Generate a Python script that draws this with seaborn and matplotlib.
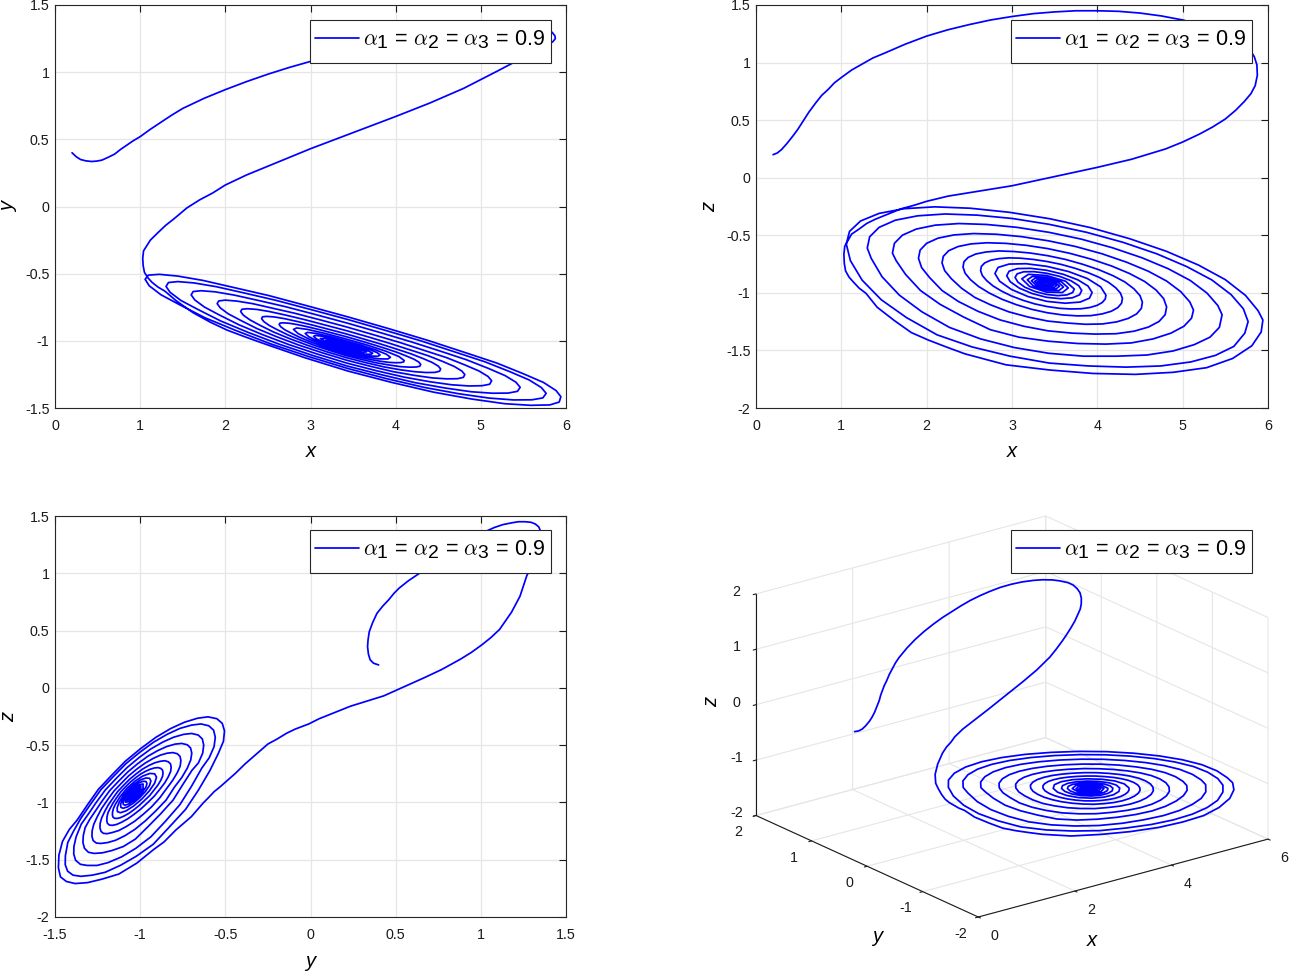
import numpy as np
import pandas as pd
import matplotlib
matplotlib.use("Agg")
import matplotlib.pyplot as plt
import matplotlib._mathtext as mathtext_core
import seaborn as sns
from matplotlib.transforms import Affine2D
from mpl_toolkits.mplot3d import proj3d

# Trajectory: lead-in curve first
x_lead = [0.20, 0.25, 0.30, 0.36, 0.43, 0.49, 0.55, 0.62, 0.70, 0.77, 0.85, 0.92, 1.00, 1.12, 1.25, 1.37, 1.50, 1.75,
          2.00, 2.25, 2.50, 2.75, 3.00, 3.25, 3.50, 3.75, 4.00, 4.25, 4.50, 4.75, 5.00, 5.20, 5.40, 5.55, 5.70, 5.78,
          5.84, 5.87, 5.875, 5.85, 5.80, 5.72, 5.62, 5.50, 5.35, 5.20, 5.00, 4.80, 4.60, 4.40, 4.20, 4.00, 3.75, 3.50,
          3.25, 3.00, 2.75, 2.50, 2.25, 2.00, 1.85, 1.70, 1.55, 1.40, 1.30, 1.20, 1.12, 1.07, 1.04, 1.03, 1.035, 1.05,
          1.09, 1.14, 1.21, 1.29, 1.42, 1.62, 1.82, 2.02, 2.23, 2.45, 2.93, 3.44, 3.95, 4.445, 4.89, 5.28, 5.585, 5.81,
          5.92, 5.94]
y_lead = [0.40, 0.37, 0.35, 0.34, 0.335, 0.338, 0.345, 0.365, 0.39, 0.425, 0.46, 0.49, 0.52, 0.575, 0.63, 0.68, 0.73, 0.805,
          0.87, 0.93, 0.985, 1.035, 1.08, 1.13, 1.18, 1.22, 1.26, 1.295, 1.32, 1.34, 1.35, 1.36, 1.36, 1.355, 1.34, 1.32,
          1.295, 1.27, 1.25, 1.23, 1.205, 1.18, 1.145, 1.11, 1.06, 1.01, 0.945, 0.88, 0.825, 0.77, 0.72, 0.67, 0.61, 0.55,
          0.49, 0.43, 0.365, 0.30, 0.235, 0.16, 0.10, 0.05, -0.01, -0.09, -0.14, -0.20, -0.25, -0.30, -0.33, -0.385, -0.44, -0.49,
          -0.53, -0.565, -0.60, -0.63, -0.70, -0.79, -0.86, -0.92, -0.97, -1.02, -1.125, -1.225, -1.309, -1.382, -1.433, -1.468, -1.48, -1.477,
          -1.456, -1.416]
z_lead = [0.20, 0.215, 0.245, 0.295, 0.36, 0.42, 0.49, 0.57, 0.65, 0.715, 0.77, 0.825, 0.87, 0.935, 0.99, 1.04, 1.08, 1.16,
          1.23, 1.285, 1.33, 1.37, 1.40, 1.425, 1.44, 1.45, 1.45, 1.445, 1.43, 1.405, 1.37, 1.33, 1.28, 1.23, 1.17, 1.12,
          1.05, 0.98, 0.89, 0.80, 0.73, 0.66, 0.585, 0.51, 0.44, 0.38, 0.31, 0.25, 0.205, 0.16, 0.125, 0.09, 0.05, 0.01,
          -0.03, -0.07, -0.10, -0.13, -0.16, -0.205, -0.24, -0.27, -0.315, -0.36, -0.396, -0.45, -0.49, -0.555, -0.595, -0.665, -0.745, -0.81,
          -0.863, -0.905, -0.96, -1.005, -1.125, -1.24, -1.345, -1.41, -1.47, -1.53, -1.625, -1.67, -1.70, -1.708, -1.69, -1.65, -1.57, -1.46,
          -1.34, -1.236]

# Spiral towards the equilibrium
x_spiral = [5.736, 5.186, 4.38, 3.44, 2.51, 1.735, 1.225, 1.058,
            1.244, 1.764, 2.534, 3.438, 4.338, 5.095, 5.6, 5.767,
            5.567, 5.048, 4.30, 3.436, 2.591, 1.894, 1.443, 1.304,
            1.477, 1.945, 2.632, 3.433, 4.225, 4.886, 5.32, 5.462,
            5.285, 4.832, 4.18, 3.431, 2.701, 2.101, 1.716, 1.599,
            1.753, 2.158, 2.746, 3.428, 4.098, 4.654, 5.015, 5.127,
            4.977, 4.597, 4.052, 3.426, 2.817, 2.319, 1.999, 1.904,
            2.034, 2.372, 2.86, 3.423, 3.975, 4.43, 4.724, 4.812,
            4.689, 4.377, 3.932, 3.421, 2.924, 2.518, 2.258, 2.18,
            2.289, 2.565, 2.963, 3.419, 3.863, 4.227, 4.46, 4.528,
            4.429, 4.181, 3.825, 3.417, 3.02, 2.695, 2.487, 2.426,
            2.514, 2.735, 3.052, 3.415, 3.767, 4.056, 4.24, 4.294,
            4.216, 4.018, 3.736, 3.413, 3.10, 2.844, 2.68, 2.632,
            2.702, 2.876, 3.126, 3.412, 3.689, 3.915, 4.059, 4.101,
            3.884, 3.41, 2.965, 2.80, 2.992, 3.409, 3.798, 3.939,
            3.772, 3.408, 3.065, 2.938, 3.086, 3.407, 3.707, 3.817,
            3.689, 3.406, 3.137, 3.036, 3.151, 3.406, 3.644, 3.73,
            3.628, 3.405, 3.193, 3.115, 3.206, 3.404, 3.591, 3.659,
            3.579, 3.404, 3.239, 3.179, 3.249, 3.403, 3.549, 3.603,
            3.54, 3.403, 3.275, 3.228, 3.283, 3.403, 3.516, 3.557,
            3.508, 3.402, 3.303, 3.267, 3.309, 3.402, 3.49, 3.522,
            3.484, 3.402, 3.325, 3.297, 3.33, 3.402, 3.468, 3.491,
            3.463, 3.401, 3.343, 3.321, 3.346, 3.401, 3.452, 3.471,
            3.401, 3.341, 3.401, 3.451, 3.401, 3.361, 3.401, 3.43]
y_spiral = [-1.31, -1.165, -0.997, -0.822, -0.663, -0.55, -0.505, -0.542,
            -0.657, -0.829, -1.023, -1.206, -1.347, -1.426, -1.439, -1.391,
            -1.291, -1.156, -1.001, -0.841, -0.698, -0.597, -0.559, -0.595,
            -0.699, -0.852, -1.025, -1.188, -1.311, -1.379, -1.389, -1.346,
            -1.259, -1.141, -1.007, -0.868, -0.745, -0.659, -0.627, -0.658,
            -0.748, -0.88, -1.028, -1.166, -1.27, -1.327, -1.334, -1.297,
            -1.224, -1.125, -1.013, -0.897, -0.795, -0.723, -0.697, -0.723,
            -0.799, -0.909, -1.031, -1.144, -1.23, -1.276, -1.282, -1.251,
            -1.191, -1.11, -1.019, -0.924, -0.841, -0.782, -0.761, -0.782,
            -0.844, -0.934, -1.033, -1.125, -1.194, -1.23, -1.235, -1.209,
            -1.161, -1.097, -1.024, -0.948, -0.882, -0.835, -0.818, -0.835,
            -0.885, -0.956, -1.035, -1.109, -1.163, -1.192, -1.195, -1.175,
            -1.137, -1.086, -1.028, -0.968, -0.916, -0.879, -0.866, -0.879,
            -0.919, -0.975, -1.037, -1.095, -1.137, -1.16, -1.162, -1.147,
            -1.077, -0.985, -0.915, -0.915, -0.99, -1.083, -1.134, -1.123,
            -1.069, -0.999, -0.945, -0.945, -1.003, -1.074, -1.113, -1.105,
            -1.064, -1.009, -0.966, -0.966, -1.011, -1.068, -1.099, -1.092,
            -1.059, -1.016, -0.983, -0.983, -1.018, -1.063, -1.087, -1.082,
            -1.056, -1.022, -0.996, -0.997, -1.024, -1.059, -1.078, -1.074,
            -1.054, -1.027, -1.007, -1.007, -1.029, -1.055, -1.07, -1.067,
            -1.051, -1.031, -1.015, -1.016, -1.032, -1.053, -1.064, -1.062,
            -1.05, -1.034, -1.022, -1.022, -1.035, -1.051, -1.059, -1.057,
            -1.048, -1.036, -1.027, -1.027, -1.037, -1.049, -1.056, -1.054,
            -1.038, -1.031, -1.048, -1.051, -1.04, -1.036, -1.046, -1.048]
z_spiral = [-1.022, -0.759, -0.53, -0.356, -0.265, -0.269, -0.376, -0.575,
            -0.89, -1.215, -1.47, -1.61, -1.645, -1.60, -1.465, -1.25,
            -1.015, -0.772, -0.561, -0.405, -0.325, -0.331, -0.431, -0.611,
            -0.86, -1.165, -1.40, -1.525, -1.55, -1.505, -1.385, -1.19,
            -1.002, -0.791, -0.609, -0.474, -0.406, -0.412, -0.499, -0.655,
            -0.84, -1.10, -1.32, -1.42, -1.445, -1.40, -1.29, -1.15,
            -0.989, -0.812, -0.66, -0.548, -0.491, -0.497, -0.57, -0.70,
            -0.867, -1.075, -1.235, -1.33, -1.358, -1.333, -1.248, -1.122,
            -0.976, -0.832, -0.708, -0.616, -0.57, -0.575, -0.634, -0.74,
            -0.877, -1.04, -1.165, -1.245, -1.273, -1.252, -1.183, -1.081,
            -0.965, -0.85, -0.751, -0.677, -0.641, -0.645, -0.692, -0.776,
            -0.886, -1.002, -1.103, -1.173, -1.20, -1.183, -1.128, -1.048,
            -0.956, -0.864, -0.786, -0.728, -0.699, -0.703, -0.74, -0.807,
            -0.893, -0.984, -1.064, -1.119, -1.14, -1.127, -1.083, -1.02,
            -0.876, -0.77, -0.75, -0.832, -0.97, -1.074, -1.08, -0.997,
            -0.887, -0.804, -0.789, -0.852, -0.959, -1.039, -1.043, -0.979,
            -0.894, -0.83, -0.817, -0.866, -0.951, -1.014, -1.018, -0.967,
            -0.899, -0.849, -0.839, -0.878, -0.944, -0.994, -0.997, -0.957,
            -0.904, -0.865, -0.857, -0.887, -0.939, -0.978, -0.98, -0.949,
            -0.907, -0.877, -0.871, -0.895, -0.934, -0.965, -0.966, -0.942,
            -0.91, -0.887, -0.882, -0.90, -0.931, -0.955, -0.956, -0.937,
            -0.912, -0.894, -0.891, -0.905, -0.929, -0.947, -0.947, -0.933,
            -0.914, -0.90, -0.898, -0.908, -0.927, -0.94, -0.941, -0.93,
            -0.905, -0.911, -0.935, -0.927, -0.91, -0.914, -0.93, -0.924]

# Extra readings, each one lies just before the same position in the spiral lists
x_extra = [5.883, 5.499, 4.809, 3.917, 2.965, 2.094, 1.442, 1.096,
           1.106, 1.468, 2.123, 2.978, 3.896, 4.742, 5.384, 5.728,
           5.711, 5.342, 4.697, 3.873, 3.003, 2.216, 1.633, 1.332,
           1.35, 1.68, 2.267, 3.027, 3.838, 4.579, 5.135, 5.43,
           5.412, 5.088, 4.526, 3.81, 3.057, 2.378, 1.878, 1.622,
           1.642, 1.928, 2.433, 3.082, 3.771, 4.396, 4.862, 5.104,
           5.084, 4.811, 4.34, 3.742, 3.114, 2.549, 2.133, 1.923,
           1.941, 2.181, 2.601, 3.138, 3.706, 4.219, 4.599, 4.795,
           4.777, 4.554, 4.168, 3.679, 3.166, 2.705, 2.367, 2.195,
           2.211, 2.409, 2.752, 3.188, 3.646, 4.059, 4.362, 4.516,
           4.50, 4.322, 4.014, 3.623, 3.213, 2.845, 2.574, 2.437,
           2.451, 2.609, 2.884, 3.231, 3.596, 3.923, 4.163, 4.284,
           4.271, 4.13, 3.886, 3.577, 3.253, 2.962, 2.749, 2.641,
           2.652, 2.778, 2.994, 3.267, 3.554, 3.811, 3.999, 4.093,
           4.039, 3.663, 3.165, 2.837, 2.855, 3.187, 3.623, 3.908,
           3.891, 3.602, 3.219, 2.966, 2.98, 3.236, 3.573, 3.792,
           3.781, 3.558, 3.259, 3.06, 3.069, 3.27, 3.536, 3.711]
y_extra = [-1.37, -1.245, -1.086, -0.909, -0.74, -0.602, -0.518, -0.511,
           -0.59, -0.733, -0.923, -1.117, -1.282, -1.394, -1.44, -1.425,
           -1.348, -1.23, -1.083, -0.921, -0.767, -0.643, -0.569, -0.566,
           -0.638, -0.767, -0.937, -1.109, -1.253, -1.351, -1.39, -1.376,
           -1.308, -1.205, -1.077, -0.937, -0.804, -0.698, -0.635, -0.633,
           -0.696, -0.807, -0.953, -1.099, -1.222, -1.304, -1.336, -1.323,
           -1.265, -1.179, -1.072, -0.955, -0.844, -0.756, -0.704, -0.703,
           -0.755, -0.848, -0.969, -1.089, -1.19, -1.257, -1.283, -1.272,
           -1.225, -1.154, -1.067, -0.971, -0.881, -0.808, -0.766, -0.765,
           -0.809, -0.885, -0.983, -1.081, -1.162, -1.216, -1.236, -1.226,
           -1.188, -1.132, -1.062, -0.986, -0.914, -0.856, -0.822, -0.821,
           -0.856, -0.917, -0.995, -1.073, -1.138, -1.18, -1.196, -1.189,
           -1.158, -1.114, -1.058, -0.998, -0.941, -0.895, -0.869, -0.868,
           -0.896, -0.944, -1.006, -1.067, -1.118, -1.151, -1.163, -1.157,
           -1.117, -1.031, -0.944, -0.904, -0.946, -1.039, -1.116, -1.135,
           -1.10, -1.034, -0.967, -0.937, -0.969, -1.04, -1.10, -1.115,
           -1.087, -1.036, -0.984, -0.96, -0.985, -1.041, -1.088, -1.10]
z_extra = [-1.154, -0.885, -0.639, -0.433, -0.30, -0.253, -0.31, -0.466,
           -0.72, -1.06, -1.365, -1.55, -1.635, -1.635, -1.543, -1.35,
           -1.138, -0.888, -0.661, -0.474, -0.354, -0.315, -0.369, -0.513,
           -0.70, -1.02, -1.30, -1.475, -1.55, -1.54, -1.45, -1.30,
           -1.11, -0.892, -0.696, -0.533, -0.431, -0.398, -0.446, -0.57,
           -0.72, -0.98, -1.21, -1.385, -1.44, -1.435, -1.35, -1.22,
           -1.079, -0.897, -0.733, -0.597, -0.512, -0.485, -0.525, -0.629,
           -0.781, -0.98, -1.16, -1.29, -1.35, -1.355, -1.297, -1.189,
           -1.05, -0.901, -0.767, -0.657, -0.587, -0.565, -0.598, -0.683,
           -0.807, -0.96, -1.105, -1.21, -1.262, -1.27, -1.222, -1.135,
           -1.024, -0.905, -0.798, -0.709, -0.654, -0.636, -0.663, -0.73,
           -0.83, -0.945, -1.056, -1.143, -1.192, -1.198, -1.16, -1.09,
           -1.002, -0.908, -0.823, -0.753, -0.71, -0.696, -0.717, -0.77,
           -0.849, -0.94, -1.027, -1.096, -1.134, -1.138, -1.108, -1.053,
           -0.948, -0.815, -0.747, -0.779, -0.899, -1.032, -1.09, -1.046,
           -0.941, -0.839, -0.787, -0.812, -0.904, -1.006, -1.051, -1.017,
           -0.937, -0.857, -0.816, -0.835, -0.907, -0.988, -1.024, -0.997]

x_ticks = [0, 1, 2, 3, 4, 5, 6]
half_ticks = [-1.5, -1, -0.5, 0, 0.5, 1, 1.5]
z_ticks = [-2, -1.5, -1, -0.5, 0, 0.5, 1, 1.5]
half_labels = ["-1.5", "-1", "-0.5", "0", "0.5", "1", "1.5"]
z_labels = ["-2", "-1.5", "-1", "-0.5", "0", "0.5", "1", "1.5"]
x_ticks_3d = [0, 2, 4, 6]
yz_ticks_3d = [-2, -1, 0, 1, 2]

legend_text = r"$\alpha_{\mathregular{1}}$ = $\alpha_{\mathregular{2}}$ = $\alpha_{\mathregular{3}}$ = 0.9"

W, H = 1289, 973

sns.set_style("whitegrid")
plt.rcParams["font.family"] = ["Liberation Sans", "DejaVu Sans"]
plt.rcParams["mathtext.fontset"] = "cm"
plt.rcParams["axes.unicode_minus"] = False
plt.rcParams["grid.color"] = "#e6e6e6"
plt.rcParams["grid.linewidth"] = 0.9
plt.rcParams["axes.edgecolor"] = "#262626"
plt.rcParams["axes.linewidth"] = 0.8
plt.rcParams["axes.labelcolor"] = "black"
plt.rcParams["text.color"] = "black"
plt.rcParams["xtick.color"] = "#1a1a1a"
plt.rcParams["ytick.color"] = "#1a1a1a"
mathtext_core.SHRINK_FACTOR = 0.9


def merge_readings(main, extra):
    merged = []
    for i, value in enumerate(main):
        if i < len(extra):
            merged.append(extra[i])
        merged.append(value)
    return merged


path = pd.DataFrame({
    "x": x_lead + merge_readings(x_spiral, x_extra),
    "y": y_lead + merge_readings(y_spiral, y_extra),
    "z": z_lead + merge_readings(z_spiral, z_extra),
})

fig = plt.figure(figsize=(W / 100, H / 100), dpi=100)


def px_rect(left, top, right, bottom):
    return [left / W, 1 - bottom / H, (right - left) / W, (bottom - top) / H]


def add_legend(ax, handles, left, top):
    box = ax.get_position()
    text_top = top + 4
    anchor = ((left / W - box.x0) / box.width, ((1 - text_top / H) - box.y0) / box.height)
    leg = ax.legend(handles=handles, labels=[legend_text], loc="upper left", bbox_to_anchor=anchor,
                    borderaxespad=0, fontsize=15.5, handlelength=2.05, handletextpad=0.2,
                    borderpad=0.22, fancybox=False, framealpha=1, edgecolor="#262626", facecolor="white")
    frame = leg.get_frame()
    frame.set_linewidth(0.8)
    # legend pad is one number, but this frame has more room above and below than at the sides
    set_frame = frame.set_bounds
    frame.set_bounds = lambda *bounds: set_frame(left, H - top - 43, 241, 43)


def flat_panel(rect, xcol, ycol, xlim, ylim, xticks, xlabels, yticks, ylabels, xname_y, legend_pos):
    ax = fig.add_axes(px_rect(*rect))
    sns.lineplot(data=path, x=xcol, y=ycol, sort=False, estimator=None, color="blue",
                 linewidth=1.25, ax=ax)
    ax.set_xlim(xlim)
    ax.set_ylim(ylim)
    ax.set_xticks(xticks, labels=xlabels)
    ax.set_yticks(yticks, labels=ylabels)
    ax.tick_params(direction="in", top=True, right=True, length=5, width=0.8, labelsize=10.3)
    ax.tick_params(axis="x", pad=8)
    ax.tick_params(axis="y", pad=4)
    ax.set_axisbelow(True)
    ax.set_xlabel(xcol, fontsize=14.5, style="italic")
    ax.set_ylabel(ycol, fontsize=14.5, style="italic")
    ax.xaxis.set_label_coords(0.5, xname_y)
    ax.yaxis.set_label_coords(-0.09, 0.5)
    ax.xaxis.label.set_va("center")
    ax.yaxis.label.set_va("center")
    add_legend(ax, ax.get_lines()[:1], *legend_pos)
    return ax


# =====================================
# Flat views
# =====================================

x_labels = [str(v) for v in x_ticks]
flat_panel((55, 5, 566, 408), "x", "y", (0, 6), (-1.5, 1.5), x_ticks, x_labels,
           half_ticks, half_labels, -0.107, (310, 20))
flat_panel((756, 5, 1268, 408), "x", "z", (0, 6), (-2, 1.5), x_ticks, x_labels,
           z_ticks, z_labels, -0.107, (1011, 20))
flat_panel((55, 516, 566, 917), "y", "z", (-1.5, 1.5), (-2, 1.5), half_ticks, half_labels,
           z_ticks, z_labels, -0.112, (310, 530))

# =====================================
# 3D view
# =====================================

ax3 = fig.add_axes(px_rect(756, 516, 1268, 917), projection="3d", proj_type="ortho")
ax3.apply_aspect = lambda position=None: None
ax3.view_init(elev=30, azim=-127.5)
ax3.set_box_aspect((1, 1, 1))
ax3.set_xlim(0, 6, view_margin=0)
ax3.set_ylim(-2, 2, view_margin=0)
ax3.set_zlim(-2, 2, view_margin=0)
ax3.set_facecolor("none")
line3d, = ax3.plot(path["x"], path["y"], path["z"], color="blue", linewidth=1.25)

ax3.set_xticks(x_ticks_3d)
ax3.set_yticks(yz_ticks_3d)
ax3.set_zticks(yz_ticks_3d)
ax3.tick_params(labelsize=10.3, pad=1)
for axis in (ax3.xaxis, ax3.yaxis, ax3.zaxis):
    axis.set_pane_color((1, 1, 1, 0))
    axis.pane.set_edgecolor("#e6e6e6")
    axis.line.set_color("#1a1a1a")
    axis.line.set_linewidth(0.8)
    axis._axinfo["grid"]["color"] = "#e6e6e6"
    axis._axinfo["grid"]["linewidth"] = 0.8
    axis._axinfo["tick"]["inward_factor"] = 0.12
    axis._axinfo["tick"]["outward_factor"] = 0.0

# fit the projected box to the panel, MATLAB style stretch
corners = np.array([[a, b, c] for a in (0, 6) for b in (-2, 2) for c in (-2, 2)])
ax3.M = ax3.get_proj()
vx, vy, _ = proj3d.proj_transform(corners[:, 0], corners[:, 1], corners[:, 2], ax3.M)
box_px = ax3.transData.transform(np.c_[vx, vy])
pos = ax3.get_position()
u = (box_px[:, 0] / W - pos.x0) / pos.width
v = (box_px[:, 1] / H - pos.y0) / pos.height
new_w = (512 / W) / (u.max() - u.min())
new_h = (401 / H) / (v.max() - v.min())
new_x = 756 / W - u.min() * new_w
new_y = (1 - 917 / H) - v.min() * new_h
ax3.set_position([new_x, new_y, new_w, new_h])


# 3D ticks get their transform back on every draw, so nudge them there
def nudge_tick_labels(axis, dx, dy):
    get_ticks = axis.get_major_ticks

    def shifted_ticks(numticks=None):
        ticks = get_ticks(numticks)
        for tick in ticks:
            tick.label1.set_transform(ax3.transData + Affine2D().translate(dx, dy))
        return ticks

    axis.get_major_ticks = shifted_ticks


nudge_tick_labels(ax3.xaxis, 6, 3)
nudge_tick_labels(ax3.yaxis, -4, 4)
nudge_tick_labels(ax3.zaxis, 4, 8)

fig.text(1092 / W, 1 - 941 / H, "x", fontsize=14.5, style="italic", ha="center", va="center")
fig.text(877 / W, 1 - 937 / H, "y", fontsize=14.5, style="italic", ha="center", va="center")
fig.text(712 / W, 1 - 702 / H, "z", fontsize=14.5, style="italic", ha="center", va="center", rotation=90)
add_legend(ax3, [line3d], 1011, 530)

fig.savefig("out.png", dpi=100)
